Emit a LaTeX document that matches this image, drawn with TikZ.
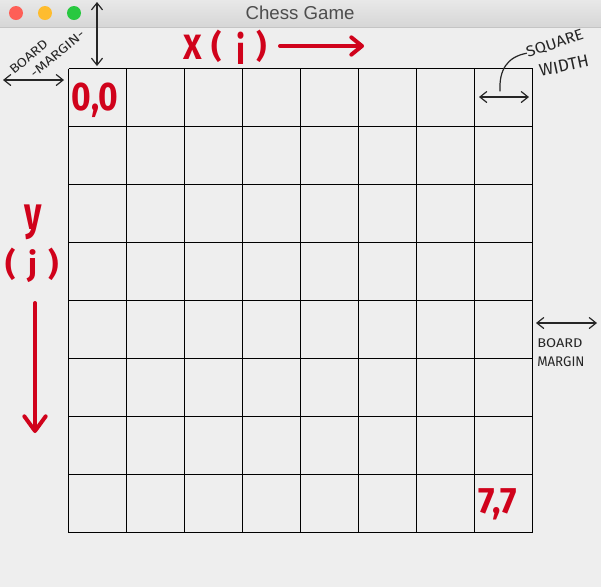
\documentclass[tikz,border=0pt]{standalone}
\usepackage{fontspec}
\setmainfont{Liberation Sans}
\newfontfamily\hand{Fira Sans}
\usetikzlibrary{arrows.meta}
\definecolor{bg}{HTML}{EEEEEE}
\definecolor{pen}{HTML}{D0021B}
\definecolor{titletop}{HTML}{E8E8E8}
\definecolor{titlebot}{HTML}{D6D6D6}
\definecolor{titleline}{HTML}{C4C4C4}
\definecolor{titletext}{HTML}{4D4D4D}
\definecolor{tlred}{HTML}{FE5F57}
\definecolor{tlyellow}{HTML}{FEBC2E}
\definecolor{tlgreen}{HTML}{28C840}
\tikzset{
  gridline/.style={line width=1.2pt, black},
  redtext/.style={text=pen, font=\hand\bfseries\fontsize{24}{24}\selectfont, inner sep=0pt},
  redarrow/.style={draw=pen, line width=3pt, line cap=round, line join=round,
     -{Straight Barb[length=8pt,width=13pt,line cap=round,line join=round]}},
  blackarrow/.style={draw=black!85, line width=0.9pt, line cap=round,
     {Straight Barb[length=5pt,width=8pt,line cap=round]}-{Straight Barb[length=5pt,width=8pt,line cap=round]}},
  notetext/.style={text=black!85, font=\hand\fontsize{9.5}{10}\selectfont, inner sep=0pt},
  light/.style={circle, inner sep=0pt, minimum size=10.5pt},
}
\begin{document}
\begin{tikzpicture}[x=0.75pt,y=-0.75pt]
\useasboundingbox (0,0) rectangle (601,587);
\fill[bg] (0,0) rectangle (601,587);
% title bar
\shade[top color=titletop, bottom color=titlebot] (0,0) rectangle (601,27);
\draw[titleline, line width=0.8pt] (0,27.5) -- (601,27.5);
\node[light, fill=tlred] (lr) at (16,13) {};
\node[light, fill=tlyellow] (ly) at (45,13) {};
\node[light, fill=tlgreen] (lg) at (74,13) {};
\node[text=titletext, font=\fontsize{14}{14}\selectfont] (title) at (300,13) {Chess Game};
% board grid
\foreach \k in {0,...,8} {
  \draw[gridline] ({68.5+58*\k},68.5) -- ({68.5+58*\k},532.5);
  \draw[gridline] (68.5,{68.5+58*\k}) -- (532.5,{68.5+58*\k});
}
% cell labels
\node[redtext] (c00) at (95,100) {\scalebox{1.05}[1.25]{0,0}};
\node[redtext] (c77) at (498,504) {\scalebox{1.1}[1.15]{7,7}};
% X (i)
\node[redtext] (xX) at (193,47) {\scalebox{1}[1.1]{X}};
\node[redtext] (xo) at (217,46) {(};
\node[redtext] (xi) at (241,48) {\scalebox{1}[1.25]{i}};
\node[redtext] (xc) at (262,46) {)};
\coordinate (xs) at (280,46);
\coordinate (xe) at (364,46);
\draw[redarrow] (xs) -- (xe);
% y (j)
\node[redtext] (yy) at (33,222) {\scalebox{1.05}[1.45]{y}};
\node[redtext] (yo) at (11,264) {(};
\node[redtext] (yj) at (33,266) {j};
\node[redtext] (yc) at (54,264) {)};
\coordinate (ys) at (35,303);
\coordinate (ye) at (35,433);
\draw[redarrow, -{Straight Barb[length=11pt,width=16pt,line cap=round,line join=round]}] (ys) -- (ye);
% top-left board margin
\coordinate (tma) at (97,2);
\coordinate (tmb) at (97,66);
\draw[blackarrow] (tma) -- (tmb);
\coordinate (lma) at (3,80);
\coordinate (lmb) at (64,80);
\draw[blackarrow] (lma) -- (lmb);
\node[notetext, rotate=40, align=left, font=\hand\fontsize{9.5}{12}\selectfont] (bm) at (47,52)
  {\scalebox{1.15}[1]{BOARD}\\\hspace*{10pt}\scalebox{1.2}[1]{-MARGIN-}};
% square width
\node[notetext, rotate=18] (sw1) at (555,44) {\scalebox{1.3}[1.2]{SQUARE}};
\node[notetext, rotate=12] (sw2) at (564,66) {\scalebox{1.35}[1.35]{WIDTH}};
\coordinate (swa) at (479,97);
\coordinate (swb) at (529,97);
\draw[blackarrow] (swa) -- (swb);
\coordinate (swc) at (500,91);
\draw[black!85, line width=0.9pt, line cap=round] (swc) .. controls (499,70) and (507,57) .. (sw1.west);
% right board margin
\coordinate (rma) at (536,323);
\coordinate (rmb) at (597,323);
\draw[blackarrow] (rma) -- (rmb);
\node[notetext, anchor=west] (rm1) at (537,343) {\scalebox{1.15}[1]{BOARD}};
\node[notetext, anchor=west] (rm2) at (537,362) {\scalebox{1.05}[1.1]{MARGIN}};
\end{tikzpicture}
\end{document}
